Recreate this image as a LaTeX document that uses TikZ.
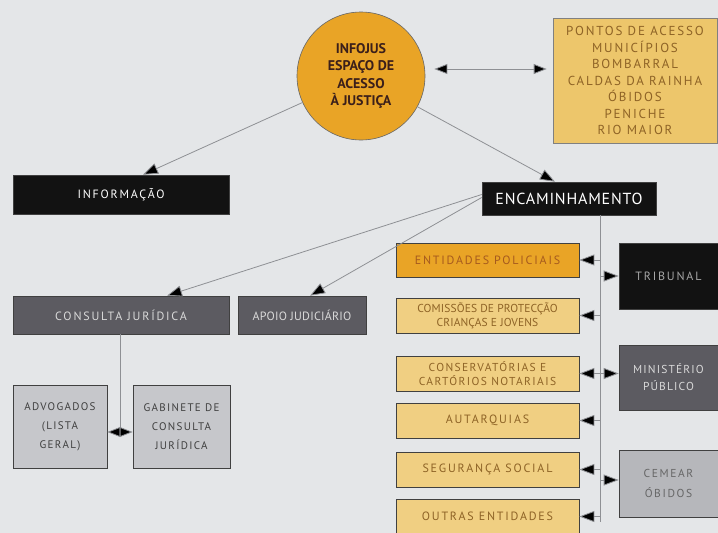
\documentclass[tikz,border=0pt]{standalone}
\usepackage{fontspec}
\setmainfont{PT Sans}
\usetikzlibrary{arrows.meta}
\definecolor{bg}{HTML}{E4E6E8}
\definecolor{orangec}{HTML}{E9A426}
\definecolor{pontosc}{HTML}{EDC66B}
\definecolor{goldc}{HTML}{F0CF82}
\definecolor{darkg}{HTML}{5C5B61}
\definecolor{lightg}{HTML}{C6C7CB}
\definecolor{blk}{HTML}{121212}
\definecolor{maroon}{HTML}{3B1F1A}
\definecolor{browntxt}{HTML}{8E6326}
\definecolor{redtxt}{HTML}{A65A1E}
\definecolor{linec}{HTML}{8E9094}
\tikzset{
  base/.style={rectangle, draw=black!75, line width=0.6pt, inner sep=1pt, align=center, font=\fontsize{12}{15}\selectfont\addfontfeatures{LetterSpace=15}},
  blackbox/.style={base, fill=blk, text=white},
  darkbox/.style={base, fill=darkg, text=black!15},
  greybox/.style={base, fill=lightg, text=black!75},
  goldbox/.style={base, fill=goldc, text=browntxt, minimum width=183pt, minimum height=35pt},
  arr/.style={draw=linec, line width=0.8pt, -{Triangle[length=15pt,width=11pt,fill=black]}},
  darr/.style={draw=linec, line width=0.8pt, {Triangle[length=13pt,width=10pt,fill=black]}-{Triangle[length=13pt,width=10pt,fill=black]}},
  plain/.style={draw=linec, line width=0.8pt}
}
\begin{document}
\begin{tikzpicture}[x=1pt,y=-1pt]
\fill[bg] (0,0) rectangle (718,533);
\useasboundingbox (0,0) rectangle (718,533);

% top
\node[circle, fill=orangec, draw=black!60, line width=0.6pt, minimum size=128pt, inner sep=0, align=center,
  font=\fontsize{14}{17.5}\selectfont\bfseries, text=maroon] (circ) at (361,76)
  {INFOJUS\\ESPAÇO DE\\ACESSO\\À JUSTIÇA};
\node[base, fill=pontosc, draw=black!50, text=browntxt, minimum width=164pt, minimum height=125pt,
  font=\fontsize{13}{16.5}\selectfont\addfontfeatures{LetterSpace=14}] (pontos) at (635,80.5)
  {PONTOS DE ACESSO\\MUNICÍPIOS\\BOMBARRAL\\CALDAS DA RAINHA\\ÓBIDOS\\PENICHE\\RIO MAIOR};

% second level
\node[blackbox, minimum width=216pt, minimum height=39pt] (info) at (121,194.5) {INFORMAÇÃO};
\node[blackbox, minimum width=174pt, minimum height=33pt, font=\fontsize{16}{18}\selectfont\addfontfeatures{LetterSpace=5}] (enc) at (569,198.5) {ENCAMINHAMENTO};

% left branch
\node[darkbox, minimum width=216pt, minimum height=38pt] (consulta) at (121,315) {CONSULTA JURÍDICA};
\node[darkbox, minimum width=128pt, minimum height=38pt, font=\fontsize{12}{15}\selectfont\addfontfeatures{LetterSpace=2}] (apoio) at (302,315) {APOIO JUDICIÁRIO};
\node[greybox, minimum width=94pt, minimum height=83pt, font=\fontsize{11}{19}\selectfont\addfontfeatures{LetterSpace=12}] (advog) at (60,426.5) {ADVOGADOS\\(LISTA\\GERAL)};
\node[greybox, minimum width=97pt, minimum height=83pt, font=\fontsize{11}{19}\selectfont\addfontfeatures{LetterSpace=12}] (gabinete) at (181.5,426.5) {GABINETE DE\\CONSULTA\\JURÍDICA};

% right column
\node[goldbox, fill=orangec, text=redtxt, minimum height=34pt] (entpol) at (487.5,260) {ENTIDADES POLICIAIS};
\node[goldbox, font=\fontsize{11.5}{14}\selectfont\addfontfeatures{LetterSpace=1}] (comiss) at (487.5,315.5) {COMISSÕES DE PROTECÇÃO\\CRIANÇAS E JOVENS};
\node[goldbox, font=\fontsize{11.5}{14}\selectfont\addfontfeatures{LetterSpace=12}] (conserv) at (487.5,373.5) {CONSERVATÓRIAS E\\CARTÓRIOS NOTARIAIS};
\node[goldbox] (autarq) at (487.5,420.5) {AUTARQUIAS};
\node[goldbox] (segur) at (487.5,469.5) {SEGURANÇA SOCIAL};
\node[goldbox] (outras) at (487.5,516.5) {OUTRAS ENTIDADES};

\node[blackbox, text=black!35, minimum width=99pt, minimum height=66pt] (tribunal) at (668.5,276) {TRIBUNAL};
\node[darkbox, minimum width=99pt, minimum height=65pt, font=\fontsize{11.5}{17}\selectfont\addfontfeatures{LetterSpace=10}] (minist) at (668.5,377.5) {MINISTÉRIO\\PÚBLICO};
\node[greybox, fill=lightg!92!black, text=black!60, minimum width=99pt, minimum height=67pt, font=\fontsize{11.5}{20}\selectfont\addfontfeatures{LetterSpace=14}] (cemear) at (668.5,483.5) {CEMEAR\\ÓBIDOS};

% connectors
\draw[darr, shorten <=9pt, shorten >=6pt] ([yshift=7pt]circ.east) -- ([yshift=11.5pt]pontos.west);
\draw[arr] (circ) -- ([xshift=22pt]info.north);
\draw[arr] (circ) -- ([xshift=-14pt]enc.north);
\draw[arr] ([yshift=4pt]enc.west) -- ([xshift=46pt]consulta.north);
\draw[arr] ([yshift=1pt]enc.west) -- ([xshift=8pt]apoio.north);

\coordinate (cj) at (120,432);
\draw[plain] (consulta.south -| cj) -- (cj);
\draw[darr] ([yshift=-5.5pt]advog.east) -- ([yshift=-5.5pt]gabinete.west);

\coordinate (vt) at (600,215);
\coordinate (vb) at (600,522);
\draw[draw=linec, line width=0.6pt] (vt) -- (vb);
\foreach \n in {entpol,comiss,conserv,autarq,segur,outras}{
  \draw[arr] (\n.east -| vt) -- (\n.east);
}
\draw[arr] (tribunal.west -| vt) -- (tribunal.west);
\draw[arr] ([yshift=4pt]minist.west -| vt) -- ([yshift=4pt]minist.west);
\draw[arr] ([yshift=3.5pt]cemear.west -| vt) -- ([yshift=3.5pt]cemear.west);
\end{tikzpicture}
\end{document}
